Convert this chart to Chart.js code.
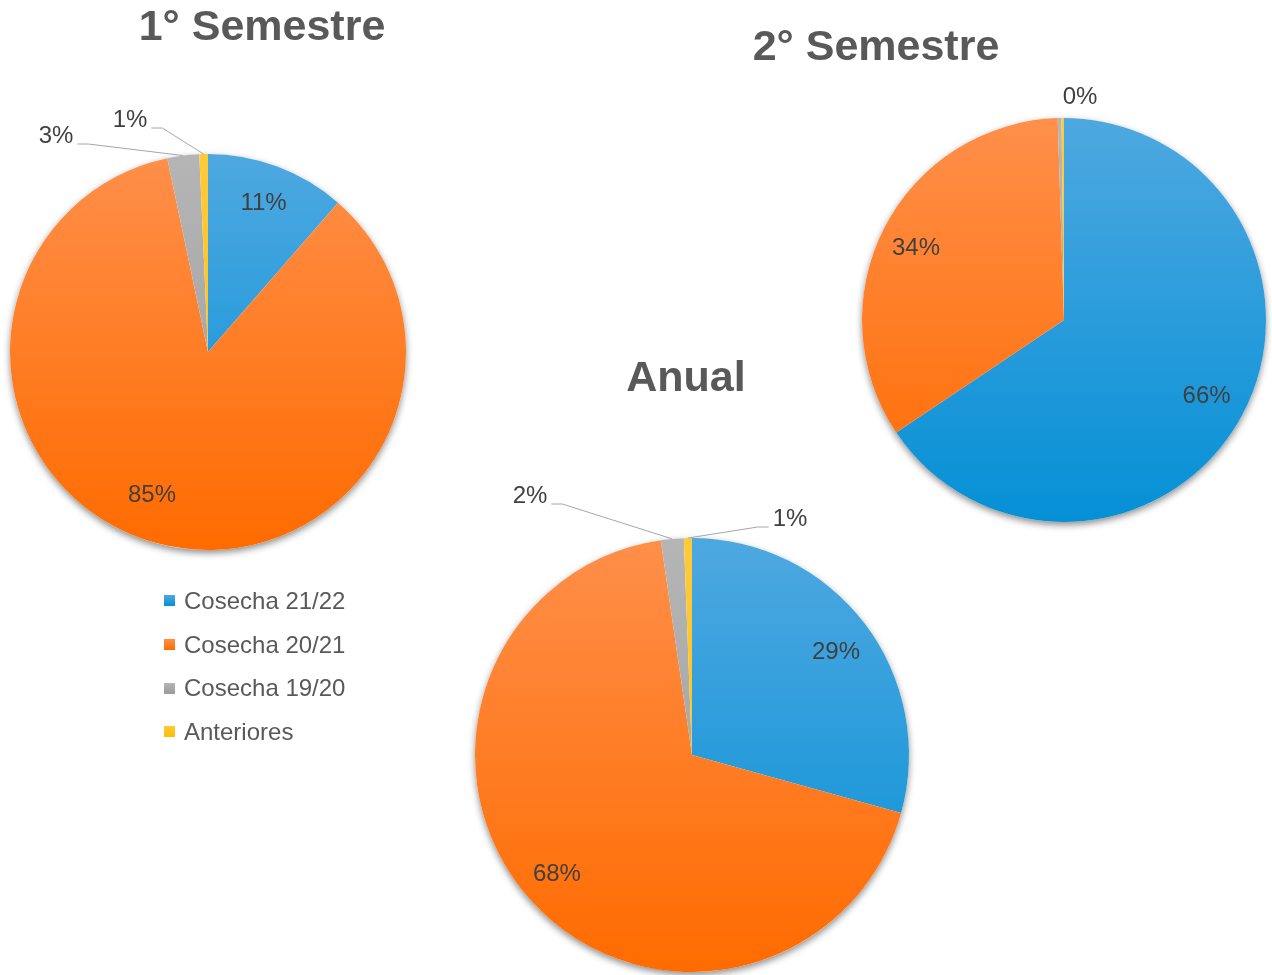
<!DOCTYPE html>
<html lang="es">
<head>
<meta charset="utf-8">
<title>Cosechas</title>
<script src="https://cdn.jsdelivr.net/npm/chart.js@4.4.1/dist/chart.umd.min.js"></script>
<style>
    html, body { margin: 0; padding: 0; background: #fff; }
    #wrap { position: relative; width: 1272px; height: 975px; overflow: hidden; }
    #wrap canvas { position: absolute; left: 0; top: 0; }
    #legend {
        position: absolute; left: 164px; top: 579px;
        font: 24px "Liberation Sans", Arial, sans-serif; color: #595959;
    }
    #legend .item { display: flex; align-items: center; height: 43.7px; }
    #legend .box { width: 11px; height: 11px; margin-right: 9px; }
</style>
</head>
<body>
<div id="wrap">
    <canvas id="chartSem1" width="1272" height="975"></canvas>
    <canvas id="chartSem2" width="1272" height="975"></canvas>
    <canvas id="chartAnual" width="1272" height="975"></canvas>
    <div id="legend"></div>
</div>
<script>
    // Shares per harvest (percent)
    const categories = ['Cosecha 21/22', 'Cosecha 20/21', 'Cosecha 19/20', 'Anteriores'];
    const chartTitles = ['1° Semestre', '2° Semestre', 'Anual'];
    const valuesSem1 = [11.4, 85.3, 2.6, 0.7];
    const valuesSem2 = [65.6, 33.9, 0.3, 0.2];
    const valuesAnual = [29.3, 68.4, 1.7, 0.6];

    // top / bottom colour of each slice gradient
    const sliceColors = [
        ['#4ea8e0', '#0590d6'],
        ['#ff8f4a', '#ff6b00'],
        ['#b5b5b5', '#9b9b9b'],
        ['#ffca3a', '#ffbe00']
    ];

    function sliceFill(context) {
        const c = sliceColors[context.dataIndex] || ['#ccc', '#ccc'];
        const area = context.chart.chartArea;
        if (!area) return c[1];
        const g = context.chart.ctx.createLinearGradient(0, area.top, 0, area.bottom);
        g.addColorStop(0, c[0]);
        g.addColorStop(1, c[1]);
        return g;
    }

    // Shadow under the pie, percentage labels with leader lines, and the title
    const pieDecor = {
        id: 'pieDecor',
        beforeDatasetsDraw(chart) {
            const arc = chart.getDatasetMeta(0).data[0];
            if (!arc) return;
            const ctx = chart.ctx;
            ctx.save();
            ctx.shadowColor = 'rgba(0,0,0,0.45)';
            ctx.shadowBlur = 7;
            ctx.shadowOffsetY = 3;
            ctx.fillStyle = '#fff';
            ctx.beginPath();
            ctx.arc(arc.x, arc.y, arc.outerRadius, 0, Math.PI * 2);
            ctx.fill();
            ctx.restore();
        },
        afterDatasetsDraw(chart, args, opts) {
            const ctx = chart.ctx;
            const meta = chart.getDatasetMeta(0);
            const data = chart.data.datasets[0].data;
            const total = data.reduce((a, b) => a + b, 0);
            const placement = opts.placement || [];

            ctx.save();
            ctx.font = '24px "Liberation Sans", Arial, sans-serif';
            ctx.fillStyle = '#404040';
            ctx.textAlign = 'center';
            ctx.textBaseline = 'middle';

            meta.data.forEach((arc, i) => {
                const place = placement[i] || {};
                if (place.hidden) return;
                const text = Math.round(data[i] / total * 100) + '%';
                const mid = (arc.startAngle + arc.endAngle) / 2;
                let lx, ly;
                if (place.dx !== undefined) {
                    lx = arc.x + place.dx;
                    ly = arc.y + place.dy;
                } else {
                    const rr = arc.outerRadius * (place.r || 0.8);
                    lx = arc.x + Math.cos(mid) * rr;
                    ly = arc.y + Math.sin(mid) * rr;
                }
                ctx.fillText(text, lx, ly);

                if (place.line) {
                    const w = ctx.measureText(text).width;
                    const ax = arc.x + Math.cos(mid) * arc.outerRadius;
                    const ay = arc.y + Math.sin(mid) * arc.outerRadius;
                    const side = ax > lx ? 1 : -1;
                    const sx = lx + side * (w / 2 + 4);
                    const sy = ly + 8;
                    ctx.beginPath();
                    ctx.moveTo(sx, sy);
                    ctx.lineTo(sx + side * 11, sy);
                    ctx.lineTo(ax, ay);
                    ctx.strokeStyle = '#a6a6a6';
                    ctx.lineWidth = 1;
                    ctx.stroke();
                }
            });

            ctx.font = 'bold 43px "Liberation Sans", Arial, sans-serif';
            ctx.fillStyle = '#595959';
            ctx.fillText(opts.title, opts.titleX, opts.titleY);
            ctx.restore();
        }
    };

    function makePie(id, values, padding, decor) {
        return new Chart(document.getElementById(id), {
            type: 'pie',
            data: {
                labels: categories,
                datasets: [{
                    data: values,
                    backgroundColor: sliceFill,
                    borderWidth: 0,
                    hoverOffset: 0,
                    offset: 0
                }]
            },
            options: {
                responsive: false,
                animation: false,
                events: [],
                layout: { padding: padding },
                plugins: {
                    legend: { display: false },
                    tooltip: { enabled: false },
                    pieDecor: decor
                }
            },
            plugins: [pieDecor]
        });
    }

    makePie('chartSem1', valuesSem1,
        { left: 10, top: 154, right: 866, bottom: 425 },
        {
            title: chartTitles[0], titleX: 262, titleY: 28,
            placement: [
                {},
                { dx: -56, dy: 143 },
                { dx: -152, dy: -216, line: true },
                { dx: -78, dy: -232, line: true }
            ]
        });

    makePie('chartSem2', valuesSem2,
        { left: 862, top: 118, right: 6, bottom: 453 },
        {
            title: chartTitles[1], titleX: 876, titleY: 48,
            placement: [
                {},
                { dx: -148, dy: -72 },
                { dx: 16, dy: -223 },
                { hidden: true }
            ]
        });

    makePie('chartAnual', valuesAnual,
        { left: 475, top: 538, right: 363, bottom: 3 },
        {
            title: chartTitles[2], titleX: 686, titleY: 379,
            placement: [
                { dx: 144, dy: -103 },
                { r: 0.83 },
                { dx: -162, dy: -259, line: true },
                { dx: 98, dy: -236, line: true }
            ]
        });

    // Legend shared by the three pies
    const legend = document.getElementById('legend');
    categories.forEach((name, i) => {
        const item = document.createElement('div');
        item.className = 'item';
        const box = document.createElement('span');
        box.className = 'box';
        box.style.background = 'linear-gradient(' + sliceColors[i][0] + ',' + sliceColors[i][1] + ')';
        const label = document.createElement('span');
        label.textContent = name;
        item.appendChild(box);
        item.appendChild(label);
        legend.appendChild(item);
    });
</script>
</body>
</html>
